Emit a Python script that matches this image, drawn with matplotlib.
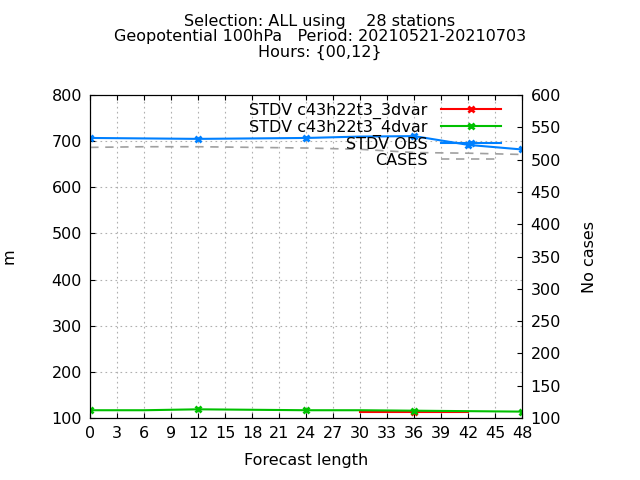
import numpy as np
import matplotlib
matplotlib.use("Agg")
import matplotlib.pyplot as plt

hours = [0, 6, 12, 18, 24, 30, 36, 42, 48]
stdv_3dvar = [np.nan, np.nan, np.nan, np.nan, np.nan, 114, 114, 114, np.nan]
stdv_4dvar = [117, 117, 119, 118, 117, 117, 116, 115, 114]
stdv_obs = [707, 706, 705, 706, 707, 710, 711, 692, 682]
cases = [519, 520, 520, 519, 518, 516, 511, 510, 508]

fs = 11.5
fig = plt.figure(figsize=(6.4, 4.8), dpi=100)
ax = fig.add_axes([0.141, 0.129, 0.675, 0.673])
ax2 = ax.twinx()

ax.plot(hours, stdv_3dvar, color="#ff0000", lw=1.5, marker="x", mew=2, ms=5,
        markevery=[6], label="STDV c43h22t3_3dvar")
ax.plot(hours, stdv_4dvar, color="#00c000", lw=1.5, marker="x", mew=2, ms=5,
        markevery=[0, 2, 4, 6, 8], label="STDV c43h22t3_4dvar")
ax.plot(hours, stdv_obs, color="#0080ff", lw=1.5, marker="x", mew=2, ms=5,
        markevery=[0, 2, 4, 6, 7, 8], label="STDV OBS")
ax2.plot(hours, cases, color="#a0a0a0", lw=1.2, ls=(0, (5, 4)), label="CASES")

ax.set_xlim(0, 48)
ax.set_ylim(100, 800)
ax2.set_ylim(100, 600)
ax.set_xticks(range(0, 49, 3))
ax.set_yticks(range(100, 801, 100))
ax2.set_yticks(range(100, 601, 50))
ax.grid(True, color="#b0b0b0", ls=(0, (1.5, 3)), lw=0.8)
ax.tick_params(direction="in", labelsize=fs, top=True, pad=6)
ax2.tick_params(direction="in", labelsize=fs, pad=6)
ax.set_xlabel("Forecast length", fontsize=fs, labelpad=8)
ax.set_ylabel("m", fontsize=fs, labelpad=25)
ax2.set_ylabel("No cases", fontsize=fs, labelpad=15)

fig.suptitle("Selection: ALL using    28 stations\nGeopotential 100hPa   Period: 20210521-20210703\nHours: {00,12}",
             fontsize=fs, y=0.97, linespacing=1.0)

h1, l1 = ax.get_legend_handles_labels()
h2, l2 = ax2.get_legend_handles_labels()
leg = ax2.legend(h1 + h2, l1 + l2, loc="upper right", frameon=False, fontsize=fs,
                 markerfirst=False, handlelength=3.8, borderaxespad=0.1,
                 labelspacing=0.05, bbox_to_anchor=(0.97, 1.0))
for t in leg.get_texts():
    t.set_ha("right")

fig.savefig("out.png")
